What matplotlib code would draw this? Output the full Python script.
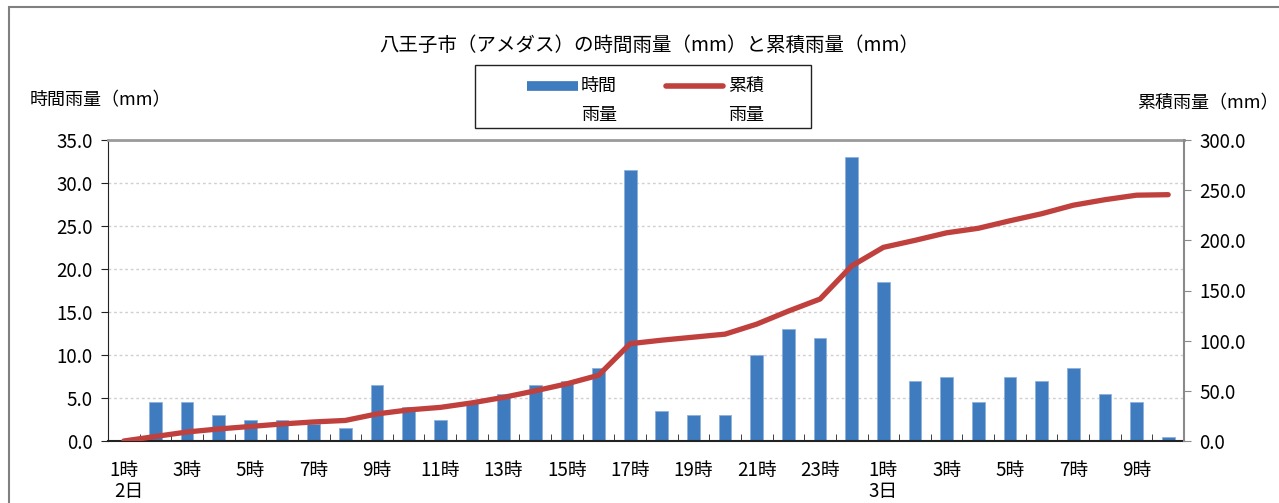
import matplotlib
matplotlib.use("Agg")
import matplotlib.pyplot as plt
from matplotlib.lines import Line2D
from matplotlib.patches import Rectangle
from matplotlib.transforms import blended_transform_factory

plt.rcParams['font.family'] = ['Noto Sans CJK JP', 'DejaVu Sans']

# データ（2日1時〜3日10時）
hours = ["1時", "2時", "3時", "4時", "5時", "6時", "7時", "8時", "9時", "10時",
         "11時", "12時", "13時", "14時", "15時", "16時", "17時", "18時", "19時", "20時",
         "21時", "22時", "23時", "24時",
         "1時", "2時", "3時", "4時", "5時", "6時", "7時", "8時", "9時", "10時"]
hourly_rain = [0.0, 4.5, 4.5, 3.0, 2.5, 2.5, 2.0, 1.5, 6.5, 4.0,
               2.5, 4.5, 5.5, 6.5, 7.0, 8.5, 31.5, 3.5, 3.0, 3.0,
               10.0, 13.0, 12.0, 33.0,
               18.5, 7.0, 7.5, 4.5, 7.5, 7.0, 8.5, 5.5, 4.5, 0.5]
cum_rain = [0.0, 4.5, 9.0, 12.0, 14.5, 17.0, 19.0, 20.5, 27.0, 31.0,
            33.5, 38.0, 43.5, 50.0, 57.0, 65.5, 97.0, 100.5, 103.5, 106.5,
            116.5, 129.5, 141.5, 174.5,
            193.0, 200.0, 207.5, 212.0, 219.5, 226.5, 235.0, 240.5, 245.0, 245.5]
left_ticks = [0, 5, 10, 15, 20, 25, 30, 35]
right_ticks = [0, 50, 100, 150, 200, 250, 300]

title = "八王子市（アメダス）の時間雨量（mm）と累積雨量（mm）"
bar_color = "#3e7cbf"
line_color = "#c0403d"

W, H = 1279, 503
fig = plt.figure(figsize=(W / 100, H / 100), dpi=100)


def fx(x):
    return x / W


def fy(y):
    return 1 - y / H


ax = fig.add_axes([fx(108), fy(441), fx(1184) - fx(108), fy(140) - fy(441)])
x = list(range(len(hours)))

ax.bar(x, hourly_rain, width=0.4, color=bar_color, edgecolor="#8fb1da",
       linewidth=0.6, zorder=2)
ax.set_xlim(-0.5, len(hours) - 0.5)
ax.set_ylim(0, 35)
ax.set_yticks(left_ticks)
ax.set_yticklabels([f"{v:.1f}" for v in left_ticks], fontsize=13.5)
ax.grid(axis="y", color="#d0d0d0", linestyle=(0, (2, 2)), linewidth=1, zorder=0)
ax.set_xticks(x[::2])
ax.set_xticklabels(hours[::2], fontsize=13.5)
ax.tick_params(axis="x", length=0, pad=14)
ax.set_xticks([i + 0.5 for i in x[:-1]], minor=True)
ax.tick_params(axis="x", which="minor", direction="in", length=5, color="#222222")
ax.tick_params(axis="y", direction="out", length=5, color="#222222", pad=6)
ax.spines["left"].set_color("#222222")
ax.spines["bottom"].set_color("#222222")
ax.spines["bottom"].set_linewidth(1.5)
ax.spines["top"].set_color("#9a9a9a")
ax.spines["top"].set_linewidth(2)
ax.spines["right"].set_visible(False)

# 日付ラベル
date_tr = blended_transform_factory(ax.transData, fig.transFigure)
ax.text(0.15, fy(492), "2日", transform=date_tr, ha="center", va="center", fontsize=13.5)
ax.text(24, fy(492), "3日", transform=date_tr, ha="center", va="center", fontsize=13.5)

ax2 = ax.twinx()
ax2.plot(x, cum_rain, color=line_color, linewidth=3.8, solid_capstyle="round",
         solid_joinstyle="round", zorder=3)
ax2.set_ylim(0, 300)
ax2.set_yticks(right_ticks)
ax2.set_yticklabels([f"{v:.1f}" for v in right_ticks], fontsize=13.5)
ax2.tick_params(axis="y", direction="out", length=5, color="#8a8a8a", pad=6)
ax2.spines["right"].set_color("#8a8a8a")
ax2.spines["right"].set_linewidth(1.5)
for s in ["left", "top", "bottom"]:
    ax2.spines[s].set_visible(False)

# タイトルと軸ラベル
fig.text(fx(649), fy(45), title, ha="center", va="center", fontsize=14)
fig.text(fx(30), fy(100), "時間雨量（mm）", ha="left", va="center", fontsize=13)
fig.text(fx(1137), fy(103), "累積雨量（mm）", ha="left", va="center", fontsize=13)

# 凡例
fig.add_artist(Rectangle((fx(475), fy(128)), fx(811) - fx(475), fy(65) - fy(128),
                         transform=fig.transFigure, fill=False, edgecolor="#222222", linewidth=1))
fig.add_artist(Line2D([fx(527), fx(578)], [fy(86), fy(86)], transform=fig.transFigure,
                      color=bar_color, linewidth=7, solid_capstyle="butt"))
fig.add_artist(Line2D([fx(666), fx(723)], [fy(86), fy(86)], transform=fig.transFigure,
                      color=line_color, linewidth=4, solid_capstyle="round"))
fig.text(fx(581), fy(86), "時間", ha="left", va="center", fontsize=13)
fig.text(fx(581), fy(115), "雨量", ha="left", va="center", fontsize=13)
fig.text(fx(728), fy(86), "累積", ha="left", va="center", fontsize=13)
fig.text(fx(728), fy(115), "雨量", ha="left", va="center", fontsize=13)

# 外枠
fig.add_artist(Rectangle((fx(9), fy(520)), fx(1300) - fx(9), fy(7) - fy(520),
                         transform=fig.transFigure, fill=False, edgecolor="#808080", linewidth=1.5))

fig.savefig("out.png", dpi=100)
